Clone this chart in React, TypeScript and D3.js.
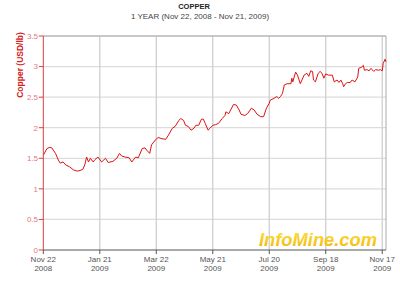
import React from "react";
import * as d3 from "d3";

const chartTitle = "COPPER";
const chartSubtitle = "1 YEAR (Nov 22, 2008 - Nov 21, 2009)";
const yAxisTitle = "Copper (USD/lb)";
const watermark = "InfoMine.com";

const startDate = new Date(Date.UTC(2008, 10, 22));
const endDate = new Date(Date.UTC(2009, 10, 21));
const tickDayOffsets = [0, 60, 120, 180, 240, 300, 360];
const yTicks = [0, 0.5, 1, 1.5, 2, 2.5, 3, 3.5];

// [days since Nov 22 2008, USD/lb]
const copperPoints: [number, number][] = [
  [0, 1.55], [4, 1.66], [7, 1.68], [9, 1.67], [13, 1.58], [16, 1.47], [18, 1.42],
  [21, 1.44], [24, 1.39], [28, 1.36], [32, 1.31], [36, 1.29], [39, 1.30], [42, 1.32],
  [44, 1.39], [46, 1.52], [48, 1.44], [50, 1.50], [53, 1.44], [55, 1.48], [58, 1.52],
  [62, 1.44], [66, 1.50], [69, 1.43], [71, 1.44], [74, 1.45], [78, 1.50], [81, 1.58],
  [83, 1.54], [87, 1.52], [91, 1.51], [94, 1.44], [98, 1.52], [101, 1.51], [105, 1.66],
  [108, 1.67], [110, 1.63], [113, 1.58], [115, 1.72], [119, 1.80], [122, 1.84], [126, 1.82],
  [130, 1.81], [133, 1.88], [137, 1.99], [140, 2.02], [144, 2.12], [146, 2.15], [149, 2.12],
  [151, 2.04], [154, 2.02], [157, 1.96], [160, 1.99], [162, 2.04], [165, 2.04], [168, 2.14],
  [170, 2.14], [172, 2.07], [175, 1.96], [177, 1.99], [180, 2.04], [183, 2.05], [186, 2.07],
  [190, 2.15], [193, 2.20], [194, 2.26], [197, 2.23], [199, 2.29], [202, 2.38], [205, 2.37],
  [208, 2.29], [210, 2.22], [214, 2.20], [217, 2.23], [221, 2.32], [224, 2.29], [227, 2.22],
  [231, 2.18], [234, 2.18], [237, 2.32], [240, 2.40], [241, 2.45], [245, 2.48], [248, 2.51],
  [250, 2.48], [252, 2.51], [254, 2.56], [256, 2.70], [259, 2.72], [263, 2.72], [264, 2.81],
  [265, 2.75], [268, 2.91], [270, 2.86], [273, 2.72], [277, 2.86], [280, 2.89], [282, 2.84],
  [284, 2.93], [286, 2.92], [287, 2.78], [289, 2.75], [292, 2.89], [294, 2.92], [296, 2.89],
  [298, 2.81], [300, 2.88], [303, 2.86], [307, 2.86], [309, 2.75], [312, 2.78], [314, 2.74],
  [316, 2.78], [318, 2.72], [319, 2.67], [321, 2.72], [323, 2.74], [326, 2.74], [328, 2.78],
  [331, 2.75], [334, 2.83], [335, 2.97], [338, 2.99], [340, 3.02], [341, 2.94], [344, 2.95],
  [346, 2.93], [348, 2.97], [351, 2.92], [353, 2.95], [356, 2.94], [358, 2.95], [360, 2.93],
  [361, 3.05], [363, 3.12], [364, 3.08],
];

const W = 400;
const H = 286;
const L = 43.3;
const R = 386;
const T = 36;
const B = 250;
const FONT = "Arial, 'Liberation Sans', sans-serif";

export default function App() {
  const x = d3.scaleUtc().domain([startDate, endDate]).range([L, R]);
  const y = d3.scaleLinear().domain([0, 3.5]).range([B, T]);
  const tickDates = tickDayOffsets.map((d) => d3.utcDay.offset(startDate, d));
  const fmtMD = d3.utcFormat("%b %d");
  const fmtY = d3.utcFormat("%Y");
  const line = d3
    .line<[number, number]>()
    .x((p) => x(d3.utcDay.offset(startDate, p[0])))
    .y((p) => y(p[1]));

  return (
    <svg
      width={W}
      height={H}
      style={{ position: "absolute", left: 0, top: 0, background: "#fff" }}
      fontFamily={FONT}
    >
      <defs>
        <linearGradient id="wm" x1="0" y1="0" x2="0" y2="1">
          <stop offset="0" stopColor="#ffe14a" />
          <stop offset="1" stopColor="#f1b400" />
        </linearGradient>
      </defs>
      <rect width={W} height={H} fill="#fff" />
      <text x={194} y={9} textAnchor="middle" fontSize={7.5} fontWeight="bold" fill="#222">
        {chartTitle}
      </text>
      <text x={200} y={19} textAnchor="middle" fontSize={8} fill="#444">
        {chartSubtitle}
      </text>

      {/* horizontal grid */}
      {yTicks.slice(1).map((t) => (
        <line key={"h" + t} x1={L} x2={R} y1={y(t)} y2={y(t)} stroke="#dcdcdc" strokeWidth={1.3} />
      ))}
      {/* vertical grid */}
      {tickDates.slice(1).map((d, i) => (
        <line key={"v" + i} x1={x(d)} x2={x(d)} y1={T} y2={B} stroke="#cfcfcf" strokeWidth={1.3} />
      ))}
      {/* frame top/right */}
      <line x1={L} x2={R} y1={T} y2={T} stroke="#aaa" strokeWidth={1} />
      <line x1={R} x2={R} y1={T} y2={B} stroke="#aaa" strokeWidth={1} />

      {/* watermark */}
      <text
        x={259}
        y={246}
        fontSize={18}
        fontWeight={900}
        fontStyle="italic"
        fill="url(#wm)"
        textLength={118}
        lengthAdjust="spacingAndGlyphs"
      >
        {watermark}
      </text>

      {/* data line */}
      <path d={line(copperPoints) || ""} fill="none" stroke="#e01010" strokeWidth={1} strokeLinejoin="round" />

      {/* y axis */}
      <line x1={L} x2={L} y1={T} y2={B} stroke="#d84040" strokeWidth={1} />
      {yTicks.map((t) => (
        <g key={"yt" + t}>
          <line x1={L - 4.5} x2={L} y1={y(t)} y2={y(t)} stroke="#d84040" strokeWidth={1} />
          <text x={38} y={y(t)} dy="0.35em" textAnchor="end" fontSize={8} fill="#e07a7a">
            {String(t)}
          </text>
        </g>
      ))}
      <text
        transform={`translate(23,65) rotate(-90)`}
        textAnchor="middle"
        fontSize={8.5}
        fontWeight="bold"
        fill="#d42020"
      >
        {yAxisTitle}
      </text>

      {/* x axis */}
      <line x1={L} x2={R} y1={B} y2={B} stroke="#555" strokeWidth={1} />
      {tickDates.map((d, i) => (
        <g key={"xt" + i}>
          <line x1={x(d)} x2={x(d)} y1={B} y2={B + 4} stroke="#555" strokeWidth={1} />
          <text x={x(d)} y={261.5} textAnchor="middle" fontSize={8} fill="#555">
            {fmtMD(d)}
          </text>
          <text x={x(d)} y={271} textAnchor="middle" fontSize={8} fill="#555">
            {fmtY(d)}
          </text>
        </g>
      ))}
    </svg>
  );
}
